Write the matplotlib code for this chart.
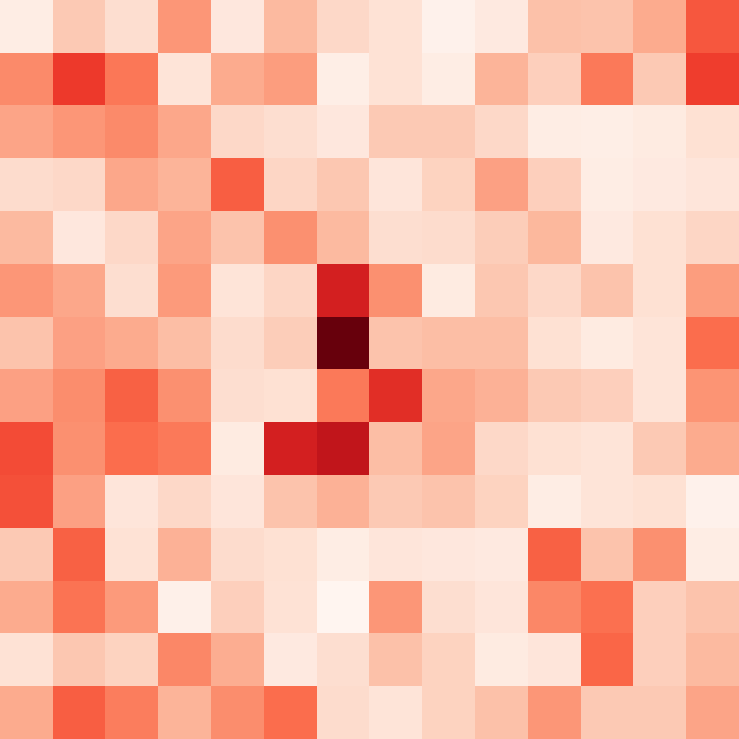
import matplotlib

matplotlib.use("Agg")
import matplotlib.pyplot as plt
import numpy as np

# cell intensities, row 0 at the top (normalised to the Reds scale)
row_00 = [0.05, 0.20, 0.13, 0.36, 0.08, 0.25, 0.15, 0.11, 0.02, 0.07, 0.23, 0.22, 0.30, 0.55]
row_01 = [0.40, 0.63, 0.46, 0.10, 0.30, 0.34, 0.04, 0.11, 0.05, 0.27, 0.18, 0.45, 0.20, 0.62]
row_02 = [0.32, 0.36, 0.40, 0.31, 0.15, 0.13, 0.08, 0.20, 0.20, 0.15, 0.05, 0.04, 0.06, 0.12]
row_03 = [0.14, 0.15, 0.31, 0.27, 0.53, 0.16, 0.21, 0.09, 0.17, 0.33, 0.18, 0.05, 0.07, 0.09]
row_04 = [0.25, 0.08, 0.15, 0.32, 0.22, 0.38, 0.25, 0.13, 0.14, 0.19, 0.26, 0.07, 0.12, 0.16]
row_05 = [0.36, 0.31, 0.13, 0.35, 0.10, 0.16, 0.72, 0.38, 0.06, 0.21, 0.15, 0.22, 0.12, 0.34]
row_06 = [0.22, 0.33, 0.30, 0.24, 0.14, 0.19, 1.00, 0.22, 0.24, 0.24, 0.12, 0.06, 0.10, 0.49]
row_07 = [0.33, 0.39, 0.52, 0.38, 0.13, 0.12, 0.45, 0.67, 0.31, 0.28, 0.20, 0.18, 0.10, 0.37]
row_08 = [0.58, 0.38, 0.49, 0.45, 0.06, 0.72, 0.78, 0.24, 0.32, 0.15, 0.12, 0.10, 0.20, 0.30]
row_09 = [0.57, 0.33, 0.09, 0.15, 0.09, 0.22, 0.28, 0.20, 0.22, 0.17, 0.05, 0.10, 0.12, 0.02]
row_10 = [0.20, 0.52, 0.11, 0.28, 0.14, 0.12, 0.05, 0.09, 0.08, 0.07, 0.52, 0.22, 0.38, 0.05]
row_11 = [0.30, 0.47, 0.35, 0.03, 0.18, 0.11, 0.00, 0.36, 0.13, 0.09, 0.41, 0.48, 0.18, 0.22]
row_12 = [0.11, 0.21, 0.17, 0.41, 0.29, 0.07, 0.13, 0.23, 0.17, 0.06, 0.09, 0.51, 0.18, 0.25]
row_13 = [0.30, 0.53, 0.44, 0.27, 0.39, 0.49, 0.14, 0.10, 0.17, 0.23, 0.36, 0.20, 0.20, 0.32]

grid = np.array([row_00, row_01, row_02, row_03, row_04, row_05, row_06,
                 row_07, row_08, row_09, row_10, row_11, row_12, row_13])

fig = plt.figure(figsize=(7.39, 7.39), dpi=100)
ax = fig.add_axes([0, 0, 1, 1])
ax.imshow(grid, cmap="Reds", vmin=0.0, vmax=1.0, aspect="auto", interpolation="nearest")
ax.set_axis_off()

fig.savefig("out.png", dpi=100)
plt.close(fig)
